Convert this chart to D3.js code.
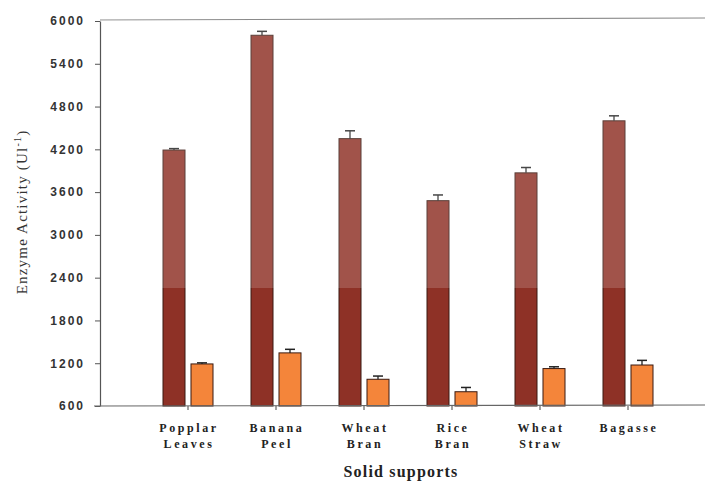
<!DOCTYPE html>
<html>
<head>
<meta charset="utf-8">
<script src="https://cdn.jsdelivr.net/npm/d3@7"></script>
<style>
  html, body { margin: 0; padding: 0; background: #fff; }
  svg { display: block; }
</style>
</head>
<body>
<svg id="chart" width="705" height="481"></svg>
<script>
// Solid supports tested and their enzyme activity (U l^-1)
const categories = [
  ["Popplar", "Leaves"],
  ["Banana", "Peel"],
  ["Wheat", "Bran"],
  ["Rice", "Bran"],
  ["Wheat", "Straw"],
  ["Bagasse"]
];
const seriesA = [4190, 5800, 4350, 3480, 3870, 4600];   // dark bars
const errorsA = [20, 55, 110, 80, 75, 70];
const seriesB = [1190, 1345, 975, 800, 1125, 1175];     // orange bars
const errorsB = [15, 50, 45, 60, 25, 65];
const yTicks = [600, 1200, 1800, 2400, 3000, 3600, 4200, 4800, 5400, 6000];

const svg = d3.select("#chart");
const W = 705;
const plotLeft = 100, plotTop = 20, plotBottom = 406;

const y = d3.scaleLinear().domain([600, 6000]).range([plotBottom, plotTop + 1]);
const keys = categories.map(c => c.join(" "));
const x = d3.scaleBand().domain(keys).range([144, 672]).padding(0);
const inner = d3.scaleBand().domain(["A", "B"]).range([-25, 25]).paddingInner(0.214);

const rows = keys.map((k, i) => ({
  key: k, a: seriesA[i], ea: errorsA[i], b: seriesB[i], eb: errorsB[i]
}));

// top frame line
svg.append("line")
  .attr("x1", plotLeft).attr("x2", W)
  .attr("y1", plotTop).attr("y2", plotTop - 2)
  .attr("stroke", "#8a8a8a").attr("stroke-width", 1.2);

const g = svg.append("g");

const bars = [
  { k: "A", v: "a", e: "ea", fill: "#8e3126" },
  { k: "B", v: "b", e: "eb", fill: "#f4853a" }
];

bars.forEach(s => {
  const cx = d => x(d.key) + x.bandwidth() / 2 + inner(s.k);
  g.selectAll(null).data(rows).enter().append("rect")
    .attr("x", cx)
    .attr("y", d => y(d[s.v]))
    .attr("width", inner.bandwidth())
    .attr("height", d => plotBottom - y(d[s.v]))
    .attr("fill", s.fill)
    .attr("stroke", "#3a1a12")
    .attr("stroke-width", 1);

  const mid = d => cx(d) + inner.bandwidth() / 2;
  g.selectAll(null).data(rows).enter().append("line")
    .attr("x1", mid).attr("x2", mid)
    .attr("y1", d => y(d[s.v])).attr("y2", d => y(d[s.v] + d[s.e]))
    .attr("stroke", "#222").attr("stroke-width", 1.3);
  g.selectAll(null).data(rows).enter().append("line")
    .attr("x1", d => mid(d) - 5).attr("x2", d => mid(d) + 5)
    .attr("y1", d => y(d[s.v] + d[s.e])).attr("y2", d => y(d[s.v] + d[s.e]))
    .attr("stroke", "#222").attr("stroke-width", 1.5);
});

// faded upper portion of the printed page
svg.append("rect")
  .attr("x", plotLeft + 1).attr("y", plotTop)
  .attr("width", W - plotLeft).attr("height", 288 - plotTop)
  .attr("fill", "#ffffff").attr("opacity", 0.17);

// y axis
const yAxis = d3.axisLeft(y).tickValues(yTicks).tickFormat(d3.format("d"))
  .tickSize(5).tickSizeOuter(0).tickPadding(10);
const ya = svg.append("g").attr("transform", `translate(${plotLeft},0)`).call(yAxis);
ya.select(".domain").attr("stroke", "#555").attr("stroke-width", 1.2);
ya.selectAll(".tick line").attr("stroke", "#555");
ya.selectAll(".tick text")
  .attr("font-family", "Liberation Sans, Arial, sans-serif")
  .attr("font-weight", "bold")
  .attr("font-size", 12)
  .attr("letter-spacing", 2)
  .attr("fill", "#333");

// x axis
const xa = svg.append("g").attr("transform", `translate(0,${plotBottom})`)
  .call(d3.axisBottom(x).tickSize(4).tickSizeOuter(0).tickFormat(""));
xa.select(".domain").remove();
xa.selectAll(".tick line").attr("stroke", "#444");
svg.append("line")
  .attr("x1", plotLeft - 6).attr("x2", W)
  .attr("y1", plotBottom).attr("y2", plotBottom - 1)
  .attr("stroke", "#666").attr("stroke-width", 1.2);

// category labels
const lab = svg.append("g")
  .attr("font-family", "Liberation Serif, Times New Roman, serif")
  .attr("font-weight", "bold")
  .attr("font-size", 12)
  .attr("letter-spacing", 2.6)
  .attr("fill", "#222")
  .attr("text-anchor", "middle");
categories.forEach((c, i) => {
  const cxl = x(keys[i]) + x.bandwidth() / 2 + 1;
  const t = lab.append("text").attr("x", cxl).attr("y", 432);
  c.forEach((line, j) => {
    t.append("tspan")
      .attr("x", cxl)
      .attr("dy", j === 0 ? 0 : 16)
      .text(line);
  });
});

// axis titles
svg.append("text")
  .attr("x", 401).attr("y", 477)
  .attr("text-anchor", "middle")
  .attr("font-family", "Liberation Serif, Times New Roman, serif")
  .attr("font-weight", "bold")
  .attr("font-size", 16)
  .attr("letter-spacing", 1.2)
  .attr("fill", "#222")
  .text("Solid supports");

const yt = svg.append("text")
  .attr("transform", "translate(27,212) rotate(-90)")
  .attr("text-anchor", "middle")
  .attr("font-family", "Liberation Serif, Times New Roman, serif")
  .attr("font-size", 15)
  .attr("letter-spacing", 1.2)
  .attr("fill", "#333");
yt.append("tspan").text("Enzyme Activity (Ul");
yt.append("tspan").attr("dy", -6).attr("font-size", 10).text("-1");
yt.append("tspan").attr("dy", 6).text(")");
</script>
</body>
</html>
